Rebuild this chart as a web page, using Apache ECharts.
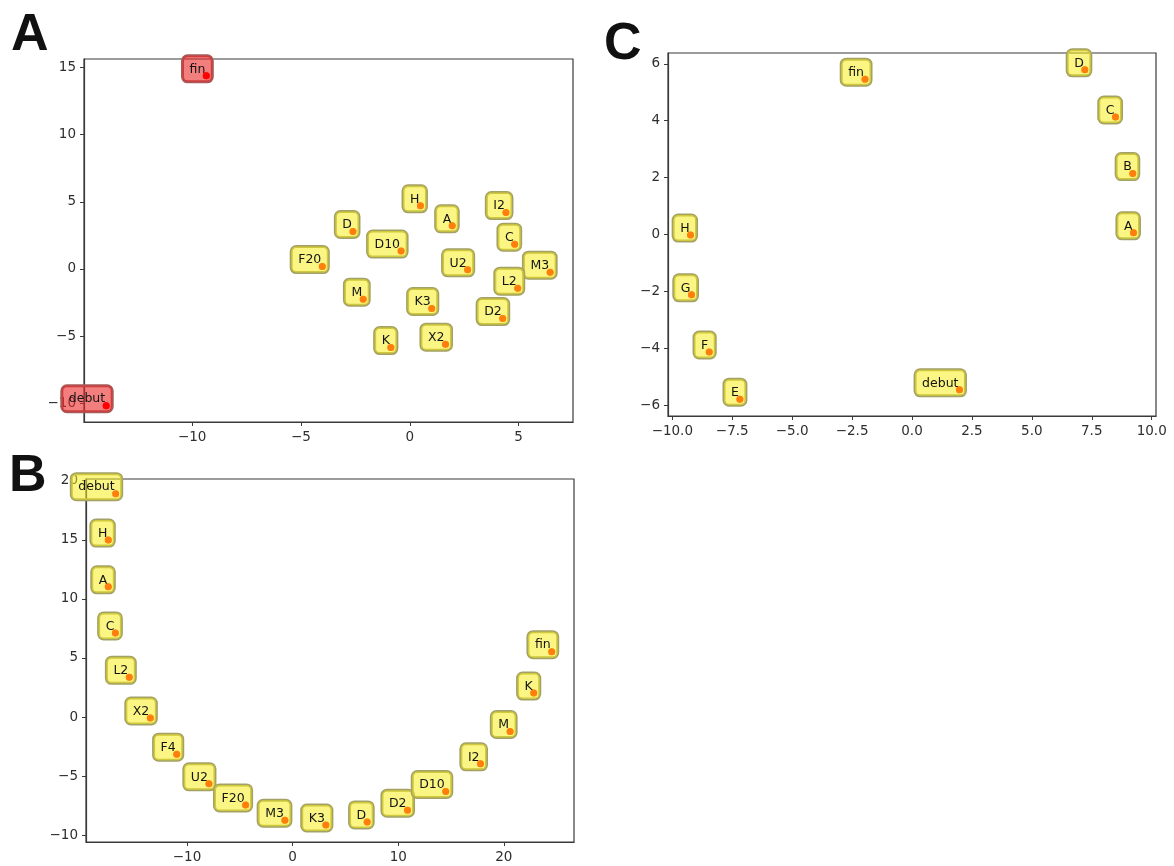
<!DOCTYPE html>
<html>
<head>
<meta charset="utf-8">
<script src="https://cdn.jsdelivr.net/npm/echarts@6/dist/echarts.min.js"></script>
<style>html,body{margin:0;padding:0;background:#fff}#c{width:1174px;height:866px}</style>
</head>
<body>
<div id="c"></div>
<script>
// ---- Panel A data ----
const aNames = ['fin','debut','H','A','I2','D','C','D10','F20','U2','M3','L2','M','K3','D2','K','X2'];
const aX = [-9.35,-13.95,0.49,1.95,4.42,-2.61,4.82,-0.40,-4.02,2.66,6.45,4.96,-2.14,1.01,4.27,-0.87,1.64];
const aY = [14.38,-10.18,4.70,3.21,4.20,2.79,1.85,1.33,0.18,-0.06,-0.24,-1.43,-2.25,-2.94,-3.69,-5.85,-5.60];
const aRed = ['fin','debut'];
const aXTicks = [-15,-10,-5,0,5];
const aYTicks = [-10,-5,0,5,10,15];

// ---- Panel B data ----
const bNames = ['debut','H','A','C','L2','X2','F4','U2','F20','M3','K3','D','D2','D10','I2','M','K','fin'];
const bX = [-16.75,-17.45,-17.45,-16.78,-15.46,-13.47,-10.97,-7.92,-4.45,-0.73,3.15,7.06,10.88,14.5,17.79,20.59,22.83,24.53];
const bY = [18.9,14.97,11.02,7.12,3.36,-0.08,-3.14,-5.65,-7.43,-8.73,-9.13,-8.87,-7.88,-6.3,-3.96,-1.22,2.03,5.53];
const bXTicks = [-10,0,10,20];
const bYTicks = [-10,-5,0,5,10,15,20];

// ---- Panel C data ----
const cNames = ['A','B','C','D','fin','H','G','F','E','debut'];
const cX = [9.24,9.21,8.49,7.21,-1.96,-9.24,-9.2,-8.46,-7.18,1.98];
const cY = [0.06,2.14,4.13,5.79,5.46,-0.02,-2.12,-4.13,-5.79,-5.46];
const cXTicks = [-10,-7.5,-5,-2.5,0,2.5,5,7.5,10];
const cYTicks = [-6,-4,-2,0,2,4,6];

const FONT = "'DejaVu Sans', sans-serif";
const minus = s => String(s).replace('-', '\u2212');

function axis(gi, min, max, ticks, fmt) {
  return {
    type: 'value', gridIndex: gi, min: min, max: max, scale: true,
    axisLine: {show: true, onZero: false, lineStyle: {color: '#3a3a3a', width: 1.2}},
    axisTick: {show: true, inside: false, length: 4, customValues: ticks, lineStyle: {color: '#3a3a3a', width: 1}},
    axisLabel: {show: true, customValues: ticks, margin: 8, color: '#2e2e2e', fontFamily: FONT, fontSize: 13.5,
      formatter: v => minus(fmt ? fmt(v) : v)},
    splitLine: {show: false}
  };
}

function makeData(names, xs, ys, red, forLabel) {
  return names.map((n, i) => {
    const isRed = red && red.indexOf(n) >= 0;
    const d = {name: n, value: [xs[i], ys[i]]};
    if (isRed) {
      d.itemStyle = {color: '#ff0000'};
      if (forLabel) d.label = {backgroundColor: 'rgba(235,40,40,0.6)', borderColor: '#a85a5a'};
    }
    return d;
  });
}

function labelSeries(gi, names, xs, ys, red) {
  return {
    type: 'scatter', xAxisIndex: gi, yAxisIndex: gi, symbolSize: 7,
    itemStyle: {color: '#ff7f0e', opacity: 1},
    clip: false, silent: true,
    label: {
      show: true, formatter: '{b}', position: [9.5, 9.5], align: 'right', verticalAlign: 'bottom',
      fontFamily: FONT, fontSize: 12.5, color: '#141414',
      backgroundColor: 'rgba(247,238,20,0.52)', borderColor: '#a4a166', borderWidth: 1.5, borderRadius: 5,
      padding: [7, 7, 6, 7]
    },
    emphasis: {disabled: true},
    data: makeData(names, xs, ys, red, true),
    z: 3
  };
}

function dotSeries(gi, names, xs, ys, red) {
  return {
    type: 'scatter', xAxisIndex: gi, yAxisIndex: gi, symbolSize: 7,
    itemStyle: {color: '#ff7f0e', opacity: 1},
    clip: false, silent: true,
    label: {show: false},
    emphasis: {disabled: true},
    data: makeData(names, xs, ys, red, false),
    z: 10
  };
}

const chart = echarts.init(document.getElementById('c'), null, {renderer: 'canvas'});
chart.setOption({
  animation: false,
  backgroundColor: '#ffffff',
  grid: [
    {left: 84, top: 59, width: 489, height: 363, show: true, borderColor: '#3a3a3a', borderWidth: 1.2, backgroundColor: 'transparent'},
    {left: 86, top: 479, width: 488, height: 363, show: true, borderColor: '#3a3a3a', borderWidth: 1.2, backgroundColor: 'transparent'},
    {left: 668, top: 53, width: 488, height: 363, show: true, borderColor: '#3a3a3a', borderWidth: 1.2, backgroundColor: 'transparent'}
  ],
  xAxis: [
    axis(0, -14.97, 7.5, aXTicks),
    axis(1, -19.56, 26.64, bXTicks),
    axis(2, -10.18, 10.18, cXTicks, v => v.toFixed(1))
  ],
  yAxis: [
    axis(0, -11.39, 15.63, aYTicks),
    axis(1, -10.57, 20.14, bYTicks),
    axis(2, -6.38, 6.38, cYTicks)
  ],
  series: [
    labelSeries(0, aNames, aX, aY, aRed),
    labelSeries(1, bNames, bX, bY),
    labelSeries(2, cNames, cX, cY),
    dotSeries(0, aNames, aX, aY, aRed),
    dotSeries(1, bNames, bX, bY),
    dotSeries(2, cNames, cX, cY)
  ],
  graphic: [
    {type: 'text', left: 11, top: 10, style: {text: 'A', font: "bold 52px 'Liberation Sans', Arial, sans-serif", fill: '#111'}},
    {type: 'text', left: 9, top: 451, style: {text: 'B', font: "bold 52px 'Liberation Sans', Arial, sans-serif", fill: '#111'}},
    {type: 'text', left: 604, top: 19, style: {text: 'C', font: "bold 52px 'Liberation Sans', Arial, sans-serif", fill: '#111'}}
  ]
});
</script>
</body>
</html>
